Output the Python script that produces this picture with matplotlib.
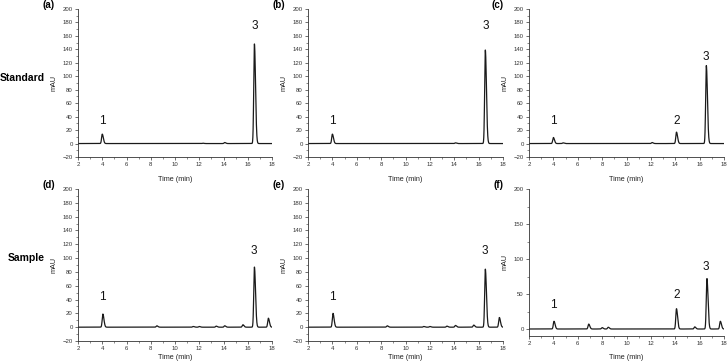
import numpy as np
import matplotlib
matplotlib.use("Agg")
import matplotlib.pyplot as plt
from matplotlib.ticker import MultipleLocator

plt.rcParams['font.family'] = ['Liberation Sans', 'DejaVu Sans']

# peak tables: retention time (min), height (mAU)
a_rt = [4.0, 12.3, 14.1, 16.55]
a_h = [14, 0.5, 1.5, 148]
b_rt = [4.0, 14.1, 16.55]
b_h = [14, 1, 139]
c_rt = [4.0, 4.8, 12.1, 14.1, 16.55]
c_h = [9, 1, 1.5, 17, 116]
d_rt = [4.05, 8.5, 11.5, 12.0, 13.4, 14.1, 15.6, 16.55, 17.7]
d_h = [19, 2, 1, 1, 1.5, 2, 3.5, 87, 13]
e_rt = [4.05, 8.5, 11.5, 12.0, 13.4, 14.1, 15.6, 16.55, 17.7]
e_h = [20, 2, 1, 1, 1.5, 2.5, 3, 84, 14]
f_rt = [4.05, 6.9, 8.0, 8.5, 14.1, 15.6, 16.6, 17.7]
f_h = [11, 7, 2, 2.5, 29, 3, 72, 11]

# numbered peak labels per panel: (text, time, mAU)
a_lab = [("1", 4.0, 33), ("3", 16.55, 175)]
b_lab = [("1", 4.0, 33), ("3", 16.55, 175)]
c_lab = [("1", 4.0, 33), ("2", 14.1, 34), ("3", 16.5, 129)]
d_lab = [("1", 4.0, 43), ("3", 16.5, 110)]
e_lab = [("1", 4.0, 43), ("3", 16.5, 110)]
f_lab = [("1", 4.0, 34), ("2", 14.1, 49), ("3", 16.5, 88)]

panels = [
    ("(a)", a_rt, a_h, a_lab),
    ("(b)", b_rt, b_h, b_lab),
    ("(c)", c_rt, c_h, c_lab),
    ("(d)", d_rt, d_h, d_lab),
    ("(e)", e_rt, e_h, e_lab),
    ("(f)", f_rt, f_h, f_lab),
]

W, H = 727, 361
# axes boxes in pixels: left, top, right, bottom
boxes = [
    (78, 9, 272, 157), (308, 9, 503, 157), (529, 9, 724, 157),
    (78, 189, 272, 341), (308, 189, 503, 341), (529, 189, 724, 336),
]
# pixels from the bottom spine down to the x label
xlab_off = [19, 19, 19, 13, 13, 18]
tags = [(49, 5), (279, 5), (498, 5), (49, 185), (279, 185), (498, 185)]


def trace(t, rts, hs):
    y = np.zeros_like(t)
    for rt, h in zip(rts, hs):
        s = np.where(t < rt, 0.055, 0.09)
        y += h * np.exp(-0.5 * ((t - rt) / s) ** 2)
    return y


fig = plt.figure(figsize=(W / 100, H / 100), dpi=100)
t = np.linspace(2, 18, 3000)

for i, (tag, rts, hs, labs) in enumerate(panels):
    l, tp, r, b = boxes[i]
    ax = fig.add_axes([l / W, 1 - b / H, (r - l) / W, (b - tp) / H])
    ax.plot(t, trace(t, rts, hs), color="#1a1a1a", lw=0.9)
    ax.set_xlim(2, 18)
    ax.xaxis.set_major_locator(MultipleLocator(2))
    ax.xaxis.set_minor_locator(MultipleLocator(1))
    if i == 5:
        ax.set_ylim(-10, 200)
        ax.yaxis.set_major_locator(MultipleLocator(50))
        ax.yaxis.set_minor_locator(MultipleLocator(25))
    else:
        ax.set_ylim(-20, 200)
        ax.yaxis.set_major_locator(MultipleLocator(20))
        ax.yaxis.set_minor_locator(MultipleLocator(10))
    for side in ["top", "right"]:
        ax.spines[side].set_visible(False)
    for side in ["left", "bottom"]:
        ax.spines[side].set_linewidth(0.6)
        ax.spines[side].set_color("#333333")
    ax.tick_params(which="major", length=2.5, width=0.5, labelsize=4.3,
                   pad=1.2, colors="#333333")
    ax.tick_params(which="minor", length=1.3, width=0.4, colors="#333333")
    ax.set_xlabel("Time (min)", fontsize=5.2, color="#222222")
    ax.set_ylabel("mAU", fontsize=5.2, color="#222222")
    ax.xaxis.set_label_coords(0.5, -xlab_off[i] / (b - tp))
    ax.yaxis.set_label_coords(-20 / (r - l), 0.5)
    for txt, x, y in labs:
        ax.text(x, y, txt, fontsize=8.5, ha="center", va="center", color="#111111")
    fig.text(tags[i][0] / W, 1 - tags[i][1] / H, tag, fontsize=7,
             fontweight="bold", ha="center", va="center")

fig.text(22 / W, 1 - 78 / H, "Standard", fontsize=7.5, fontweight="bold",
         ha="center", va="center")
fig.text(26 / W, 1 - 258 / H, "Sample", fontsize=7.5, fontweight="bold",
         ha="center", va="center")

fig.savefig("out.png", dpi=100)
